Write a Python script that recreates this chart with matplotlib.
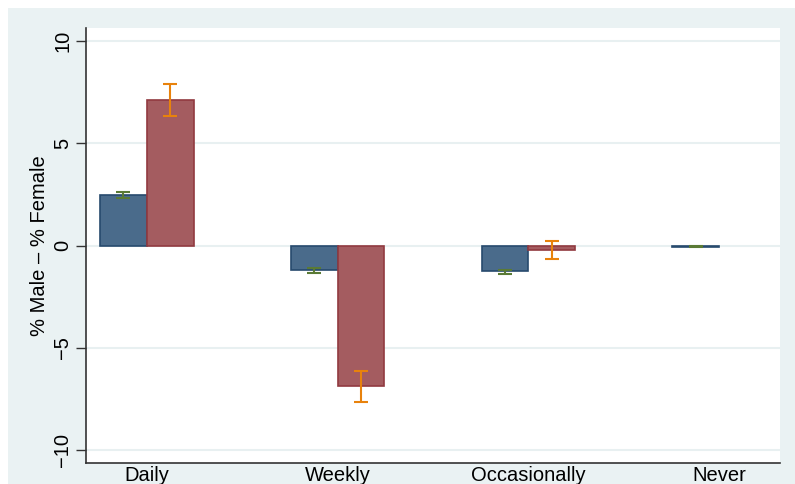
import matplotlib
matplotlib.use("Agg")
import matplotlib.pyplot as plt
import numpy as np
from matplotlib.patches import Rectangle

categories = ["Daily", "Weekly", "Occasionally", "Never"]
series1 = [2.47, -1.20, -1.27, -0.05]
series1_lo = [2.30, -1.34, -1.39, -0.07]
series1_hi = [2.60, -1.10, -1.20, -0.03]
series2 = [7.11, -6.87, -0.22, 0.0]
series2_lo = [6.33, -7.65, -0.68, 0.0]
series2_hi = [7.90, -6.14, 0.23, 0.0]
yticks = [-10, -5, 0, 5, 10]

plt.rcParams['font.family'] = ['Liberation Sans', 'DejaVu Sans']

W, H = 795, 484
fig = plt.figure(figsize=(W/100, H/100), dpi=100, facecolor='white')
bg = '#eaf2f3'
fig.patches.append(Rectangle((8/W, 0), 1 - 8/W, 1 - 8/H, transform=fig.transFigure,
                             facecolor=bg, edgecolor='none', zorder=-10))

ax = fig.add_axes([86/W, (H-463)/H, (780-86)/W, (463-28)/H])
ax.set_facecolor('white')

x = np.arange(len(categories))
bw = 0.246
s1 = np.array(series1); s2 = np.array(series2)
mask = s2 != 0
ax.bar(x - bw/2, s1, width=bw, color='#4a6b8b', edgecolor='#274a6d', linewidth=1.2, zorder=3)
ax.bar((x + bw/2)[mask], s2[mask], width=bw, color='#a45c60', edgecolor='#913a40', linewidth=1.2, zorder=3)

err1 = np.abs([s1 - np.array(series1_lo), np.array(series1_hi) - s1])
err2 = np.abs([s2 - np.array(series2_lo), np.array(series2_hi) - s2])
ax.errorbar(x - bw/2, s1, yerr=err1, fmt='none', ecolor='#5a7a35', elinewidth=1.5, capsize=5, capthick=1.5, zorder=4)
ax.errorbar((x + bw/2)[mask], s2[mask], yerr=err2[:, mask], fmt='none', ecolor='#e8820c', elinewidth=1.5, capsize=5, capthick=1.5, zorder=4)

ax.set_xlim(-0.317, 3.317)
ax.set_ylim(-10.64, 10.64)
ax.set_yticks(yticks)
ax.set_yticklabels([str(t).replace('-', '\u2212') for t in yticks], rotation=90, va='center', fontsize=14.5)
ax.set_xticks(x)
ax.set_xticklabels(categories, fontsize=14.5)
ax.tick_params(axis='x', length=0, pad=2)
ax.tick_params(axis='y', length=7, width=1, color='#333333', pad=3)
ax.yaxis.grid(True, color='#e8f0f1', linewidth=1.5, zorder=0)
ax.set_axisbelow(True)
for s in ['top', 'right']:
    ax.spines[s].set_visible(False)
for s in ['left', 'bottom']:
    ax.spines[s].set_color('#333333')
    ax.spines[s].set_linewidth(1.2)
ax.set_ylabel('% Male \u2013 % Female', fontsize=14.5, labelpad=3)

fig.savefig('out.png', dpi=100, facecolor='white')
